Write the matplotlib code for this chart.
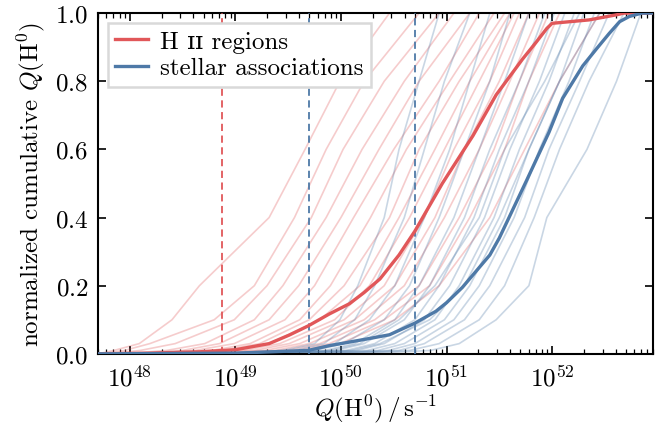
import numpy as np
import matplotlib
matplotlib.use("Agg")
import matplotlib.pyplot as plt
from matplotlib.ticker import LogLocator, NullFormatter, MultipleLocator

# cumulative levels at which the individual galaxy curves were read
levels = [0.0, 0.01, 0.03, 0.1, 0.2, 0.4, 0.6, 0.8, 1.0]

# log10 Q(H0) of each individual HII region curve at the levels above
hii_logq = [
    [47.70, 47.85, 48.09, 48.40, 48.66, 49.32, 49.66, 49.99, 50.46],
    [47.72, 47.95, 48.19, 48.80, 49.18, 49.56, 49.86, 50.22, 50.74],
    [47.80, 48.10, 48.43, 48.99, 49.30, 49.72, 50.02, 50.41, 50.93],
    [47.95, 48.35, 48.71, 49.18, 49.45, 49.86, 50.20, 50.60, 51.07],
    [48.05, 48.50, 48.85, 49.32, 49.60, 50.00, 50.36, 50.74, 51.22],
    [48.15, 48.62, 48.99, 49.47, 49.75, 50.12, 50.50, 50.93, 51.31],
    [48.30, 48.78, 49.14, 49.61, 49.90, 50.28, 50.62, 51.03, 51.45],
    [48.40, 48.88, 49.23, 49.70, 50.03, 50.46, 50.74, 51.12, 51.55],
    [48.50, 48.98, 49.32, 49.80, 50.18, 50.55, 50.89, 51.22, 51.60],
    [48.60, 49.08, 49.42, 49.94, 50.27, 50.65, 50.98, 51.31, 51.64],
    [48.70, 49.18, 49.51, 50.03, 50.41, 50.79, 51.07, 51.41, 51.69],
    [48.80, 49.28, 49.61, 50.13, 50.51, 50.89, 51.17, 51.50, 51.78],
    [48.90, 49.38, 49.70, 50.22, 50.60, 50.98, 51.31, 51.60, 51.88],
    [49.00, 49.48, 49.80, 50.32, 50.74, 51.12, 51.45, 51.69, 51.97],
    [49.10, 49.58, 49.89, 50.41, 50.84, 51.22, 51.55, 51.78, 52.07],
    [49.20, 49.68, 49.99, 50.51, 50.93, 51.41, 51.74, 52.07, 52.45],
]

# log10 Q(H0) of each individual stellar association curve
sa_logq = [
    [48.80, 49.45, 49.75, 49.99, 50.16, 50.41, 50.55, 50.74, 50.93],
    [48.90, 49.55, 49.84, 50.13, 50.32, 50.60, 50.79, 50.98, 51.22],
    [49.00, 49.65, 49.94, 50.27, 50.51, 50.79, 51.03, 51.22, 51.41],
    [49.10, 49.75, 50.03, 50.41, 50.65, 50.93, 51.17, 51.41, 51.60],
    [49.20, 49.85, 50.13, 50.51, 50.74, 51.07, 51.31, 51.55, 51.78],
    [49.30, 49.95, 50.22, 50.60, 50.84, 51.17, 51.41, 51.69, 51.93],
    [49.40, 50.05, 50.32, 50.70, 50.93, 51.26, 51.50, 51.78, 52.02],
    [49.50, 50.15, 50.41, 50.79, 51.03, 51.36, 51.60, 51.88, 52.12],
    [49.60, 50.25, 50.51, 50.89, 51.12, 51.45, 51.69, 51.97, 52.21],
    [49.70, 50.35, 50.60, 50.98, 51.22, 51.55, 51.78, 52.07, 52.30],
    [49.80, 50.45, 50.70, 51.07, 51.31, 51.64, 51.88, 52.16, 52.40],
    [49.90, 50.55, 50.79, 51.17, 51.41, 51.74, 51.97, 52.26, 52.54],
    [50.00, 50.65, 50.93, 51.31, 51.55, 51.83, 52.07, 52.35, 52.68],
    [50.20, 50.85, 51.12, 51.47, 51.78, 51.95, 52.33, 52.61, 52.84],
    [49.40, 50.10, 50.37, 50.84, 51.17, 51.50, 51.78, 52.07, 52.45],
    [49.30, 49.90, 50.18, 50.55, 50.89, 51.31, 51.55, 51.93, 52.26],
]

# stacked (all galaxies) curves
hii_all_logq = [47.70, 48.19, 48.66, 49.00, 49.32, 49.51, 49.69, 49.89, 50.08, 50.22, 50.37,
                50.55, 50.70, 50.96, 51.25, 51.47, 51.72, 51.85, 51.95, 52.00, 52.35, 52.61,
                52.68, 52.95]
hii_all_cum = [0.0, 0.002, 0.006, 0.012, 0.03, 0.055, 0.082, 0.117, 0.147, 0.18, 0.22,
               0.29, 0.36, 0.50, 0.64, 0.76, 0.865, 0.915, 0.955, 0.97, 0.98, 0.995,
               1.0, 1.0]
sa_all_logq = [47.70, 49.00, 49.69, 49.89, 50.27, 50.46, 50.70, 50.90, 51.00, 51.15, 51.41,
               51.50, 51.76, 51.97, 52.10, 52.29, 52.42, 52.54, 52.64, 52.73, 52.85, 52.95]
sa_all_cum = [0.0, 0.002, 0.01, 0.024, 0.045, 0.056, 0.09, 0.125, 0.15, 0.195, 0.29,
              0.34, 0.51, 0.65, 0.75, 0.845, 0.895, 0.94, 0.975, 0.99, 1.0, 1.0]

# medians marked with dashed lines
hii_median = 7.5e48
sa_medians = [5e49, 5e50]

red = "#e15759"
blue = "#4e79a7"

plt.rcParams.update({
    "font.family": ["cmr10", "DejaVu Serif"],
    "mathtext.fontset": "cm",
    "axes.formatter.use_mathtext": True,
    "font.size": 18,
    "axes.linewidth": 1.5,
    "xtick.direction": "in",
    "ytick.direction": "in",
    "xtick.top": True,
    "ytick.right": True,
    "xtick.major.size": 6,
    "ytick.major.size": 6,
    "xtick.minor.size": 3.5,
    "xtick.major.width": 1.2,
    "ytick.major.width": 1.2,
    "xtick.minor.width": 0.9,
})

fig = plt.figure(figsize=(6.71, 4.27), dpi=100)
ax = fig.add_axes([0.146, 0.169, 0.827, 0.798])

for row in hii_logq:
    ax.plot(10 ** np.array(row), levels, color=red, lw=1.2, alpha=0.3, zorder=2)
for row in sa_logq:
    ax.plot(10 ** np.array(row), levels, color=blue, lw=1.2, alpha=0.3, zorder=2)

ax.plot(10 ** np.array(hii_all_logq), hii_all_cum, color=red, lw=2.4, zorder=4, label="H ɪɪ regions")
ax.plot(10 ** np.array(sa_all_logq), sa_all_cum, color=blue, lw=2.4, zorder=4, label="stellar associations")

ax.axvline(hii_median, color=red, ls=(0, (4, 2.5)), lw=1.3, zorder=3)
for m in sa_medians:
    ax.axvline(m, color=blue, ls=(0, (4, 2.5)), lw=1.3, zorder=3)

ax.set_xscale("log")
ax.set_xlim(5e47, 9e52)
ax.set_ylim(0, 1)
ax.xaxis.set_major_locator(LogLocator(base=10, numticks=20))
ax.xaxis.set_minor_locator(LogLocator(base=10, subs=np.arange(2, 10), numticks=20))
ax.xaxis.set_minor_formatter(NullFormatter())
ax.yaxis.set_major_locator(MultipleLocator(0.2))
ax.tick_params(axis="x", pad=8)
ax.tick_params(axis="y", pad=7)

ax.set_xlabel(r"$Q(\mathrm{H}^0)\,/\,\mathrm{s}^{-1}$", labelpad=1)
ax.set_ylabel(r"normalized cumulative $Q(\mathrm{H}^0)$", labelpad=6)

leg = ax.legend(loc="upper left", handlelength=1.3, handletextpad=0.5, borderpad=0.3,
                labelspacing=0.15, fancybox=False, framealpha=1.0, edgecolor="#d9d9d9",
                borderaxespad=0.4)
leg.get_frame().set_linewidth(1.8)
leg.set_zorder(10)

fig.savefig("out.png", dpi=100)
